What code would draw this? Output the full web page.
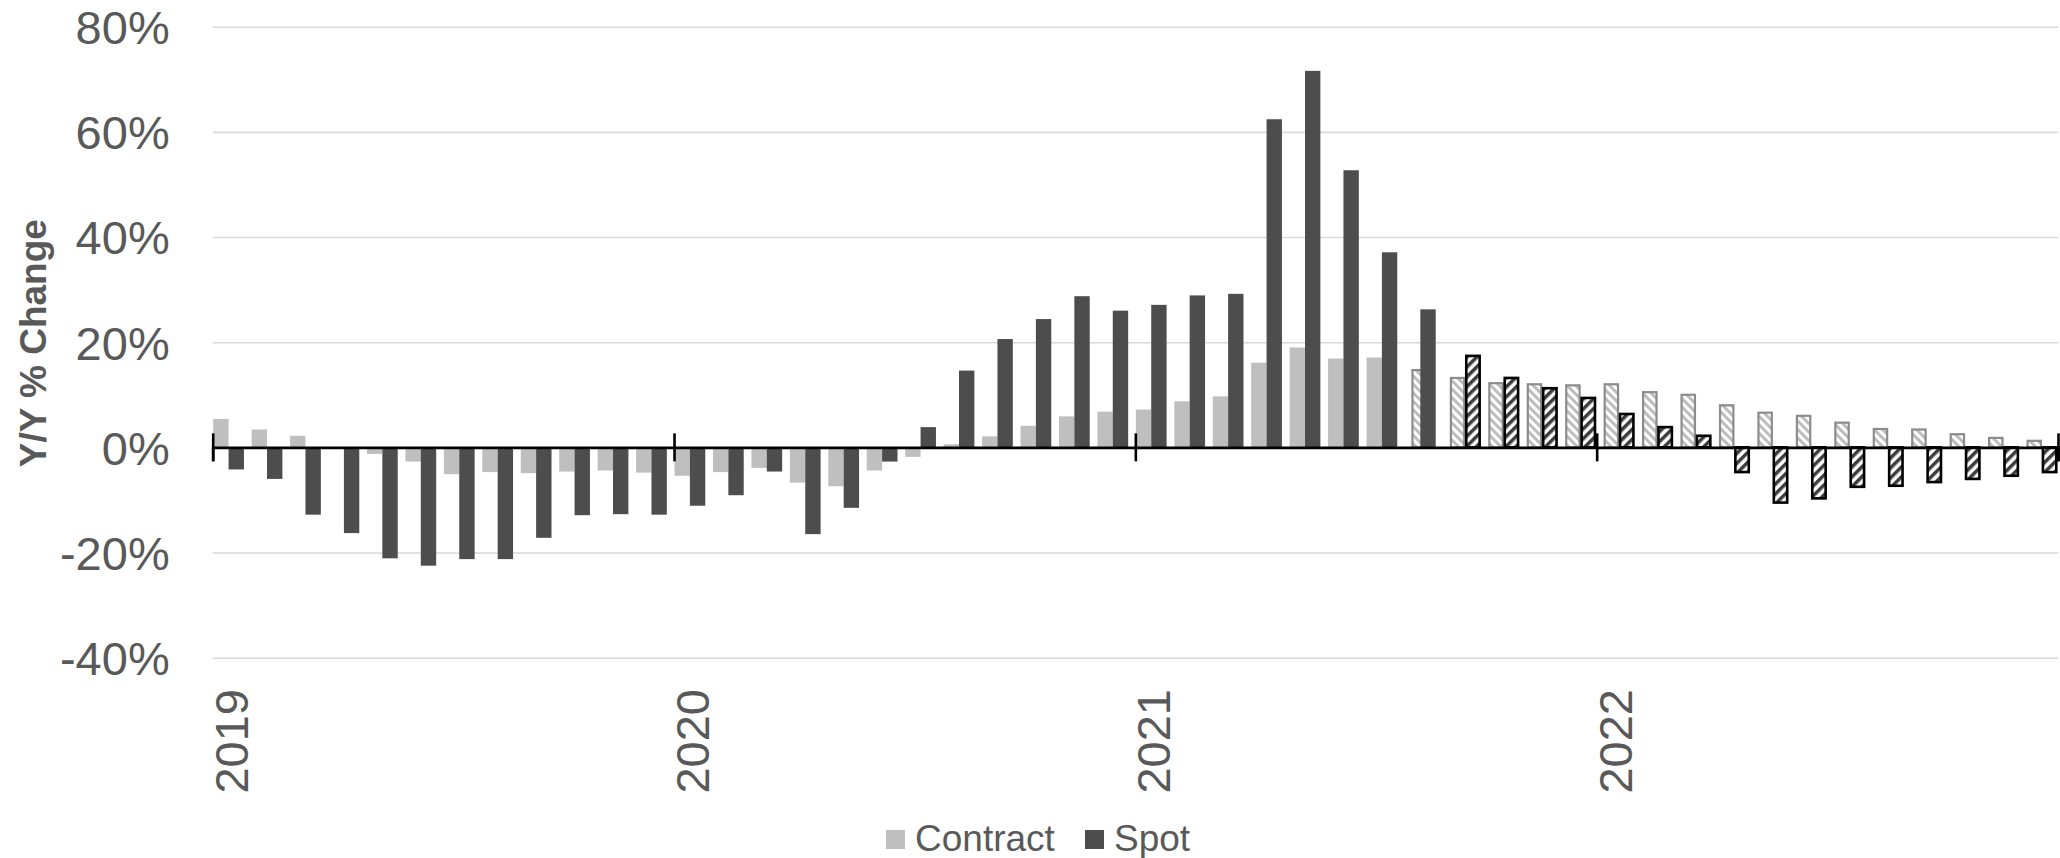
<!DOCTYPE html>
<html>
<head>
<meta charset="utf-8">
<script src="https://cdn.jsdelivr.net/npm/d3@7"></script>
<style>
  body { margin: 0; background: #fff; }
  svg { display: block; font-family: 'Liberation Sans', Arial, sans-serif; }
</style>
</head>
<body>
<div class="canvas"></div>
<script>
// DATA (Y/Y % CHANGE, MONTHLY JAN 2019 - DEC 2022)
const months = d3.timeMonths(new Date(2019, 0, 1), new Date(2023, 0, 1));
const yearLabels = ['2019', '2020', '2021', '2022'];
const yTicks = [-40, -20, 0, 20, 40, 60, 80];

// actual values, Jan 2019 onwards
const contractActual = [
  5.4, 3.4, 2.2, 0, -1.25, -2.7, -5.1, -4.7, -4.9, -4.6, -4.4, -4.8,
  -5.4, -4.7, -3.9, -6.7, -7.4, -4.4, -1.8, 0.6, 2.1, 4.1, 5.9, 6.8,
  7.2, 8.75, 9.7, 16.1, 19.0, 16.9, 17.1
];
const spotActual = [
  -4.2, -6.0, -12.8, -16.3, -21.1, -22.5, -21.25, -21.25, -17.2, -12.9, -12.7, -12.8,
  -11.1, -9.1, -4.6, -16.5, -11.5, -2.7, 3.85, 14.6, 20.6, 24.4, 28.75, 26.0,
  27.1, 28.9, 29.2, 62.4, 71.6, 52.7, 37.1, 26.25
];

// forecast values, continuing right after the actuals
const contractForecast = [
  14.7, 13.2, 12.2, 12.0, 11.8,
  12.0, 10.5, 10.0, 8.0, 6.6, 6.0, 4.7, 3.5, 3.4, 2.5, 1.8, 1.25
];
const spotForecast = [
  17.4, 13.2, 11.25, 9.4,
  6.35, 3.85, 2.2, -4.7, -10.5, -9.7, -7.5, -7.3, -6.6, -6.0, -5.4, -4.7
];

const dims = { width: 2060, height: 858 };
const plot = { left: 212.7, right: 2058, top: 26.7, bottom: 657.7 };

const svg = d3
  .select('.canvas')
  .append('svg')
  .attr('width', dims.width)
  .attr('height', dims.height);

// HATCH PATTERNS FOR FORECAST BARS
const defs = svg.append('defs');

const addHatch = (id, angle, size, stripe, colour) => {
  const p = defs
    .append('pattern')
    .attr('id', id)
    .attr('patternUnits', 'userSpaceOnUse')
    .attr('width', size)
    .attr('height', size)
    .attr('patternTransform', `rotate(${angle})`);
  p.append('rect').attr('width', size).attr('height', size).attr('fill', '#fff');
  p.append('rect').attr('width', stripe).attr('height', size).attr('fill', colour);
};

addHatch('hatchContract', -45, 6, 3, '#bdbdbd');
addHatch('hatchSpot', 45, 7, 3.5, '#3c3c3c');

// SCALES
const x = d3
  .scaleBand()
  .domain(months.map((d, i) => i))
  .range([plot.left, plot.right])
  .padding(0);

const xIdx = d3
  .scaleLinear()
  .domain([0, months.length])
  .range([plot.left, plot.right]);

const y = d3
  .scaleLinear()
  .domain([-40, 80])
  .range([plot.bottom, plot.top]);

// GRIDLINES + Y AXIS LABELS
const yAxis = d3
  .axisLeft(y)
  .tickValues(yTicks)
  .tickSize(-(plot.right - plot.left))
  .tickPadding(43)
  .tickFormat((d) => `${d}%`);

const yGroup = svg
  .append('g')
  .attr('transform', `translate(${plot.left}, 0)`)
  .call(yAxis);

yGroup.select('.domain').remove();
yGroup.selectAll('.tick line').attr('stroke', '#d9d9d9').attr('stroke-width', 1.6);
yGroup
  .selectAll('.tick text')
  .attr('fill', '#595959')
  .attr('font-size', 47)
  .attr('font-family', "'Liberation Sans', Arial, sans-serif")
  .attr('dy', '0.36em');

// Y TITLE
svg
  .append('text')
  .attr('transform', `translate(46, ${(plot.top + plot.bottom) / 2 + 1}) rotate(-90)`)
  .attr('text-anchor', 'middle')
  .attr('font-size', 37)
  .attr('font-weight', 'bold')
  .attr('fill', '#595959')
  .text('Y/Y % Change');

// BAR TABLE
const barW = x.bandwidth() * 0.4;
const bars = [];
contractActual.forEach((v, i) => bars.push({ i, v, series: 'contract', forecast: false }));
spotActual.forEach((v, i) => bars.push({ i, v, series: 'spot', forecast: false }));
contractForecast.forEach((v, k) =>
  bars.push({ i: contractActual.length + k, v, series: 'contract', forecast: true })
);
spotForecast.forEach((v, k) =>
  bars.push({ i: spotActual.length + k, v, series: 'spot', forecast: true })
);

// forecast pair sits a little to the right of the actual pair
const barX = (d) => {
  const start = x(d.i) + (d.forecast ? 7 : 0.5);
  return start + (d.series === 'spot' ? barW : 0);
};

const fillFor = (d) => {
  if (d.forecast) return d.series === 'spot' ? 'url(#hatchSpot)' : 'url(#hatchContract)';
  return d.series === 'spot' ? '#4d4d4d' : '#bfbfbf';
};

// draw order: forecast contract, actual contract, actual spot, forecast spot
const order = (d) => (d.forecast ? (d.series === 'spot' ? 3 : 0) : d.series === 'spot' ? 2 : 1);
bars.sort((a, b) => order(a) - order(b));

const graph = svg.append('g');

graph
  .selectAll('rect.bar')
  .data(bars.filter((d) => d.v !== 0))
  .enter()
  .append('rect')
  .attr('class', 'bar')
  .attr('x', (d) => barX(d) + (d.forecast ? 1 : 0))
  .attr('width', (d) => barW - (d.forecast ? 2 : 0))
  .attr('y', (d) => (d.v > 0 ? y(d.v) : y(0)))
  .attr('height', (d) => Math.abs(y(d.v) - y(0)))
  .attr('fill', fillFor)
  .attr('stroke', (d) => (d.forecast ? (d.series === 'spot' ? '#000' : '#8c8c8c') : 'none'))
  .attr('stroke-width', (d) => (d.forecast ? (d.series === 'spot' ? 2.6 : 2.2) : 0));

// X AXIS AT ZERO
const xAxis = d3
  .axisBottom(xIdx)
  .tickValues([0, 12, 24, 36, 48])
  .tickSize(14)
  .tickFormat('');

const xGroup = svg
  .append('g')
  .attr('transform', `translate(0, ${y(0)})`)
  .call(xAxis);

xGroup.select('.domain').attr('stroke', '#000').attr('stroke-width', 2.7);
xGroup
  .selectAll('.tick line')
  .attr('y1', -14)
  .attr('y2', 14)
  .attr('stroke', '#000')
  .attr('stroke-width', 2.6);

// YEAR LABELS (ROTATED)
svg
  .append('g')
  .selectAll('text')
  .data(yearLabels)
  .enter()
  .append('text')
  .attr('transform', (d, i) => `translate(${xIdx(i * 12) + 35}, 689) rotate(-90)`)
  .attr('text-anchor', 'end')
  .attr('font-size', 47)
  .attr('fill', '#595959')
  .text((d) => d);

// LEGEND
const legendItems = [
  { name: 'Contract', colour: '#bfbfbf', x: 886 },
  { name: 'Spot', colour: '#4d4d4d', x: 1085 }
];

const legend = svg
  .append('g')
  .selectAll('g')
  .data(legendItems)
  .enter()
  .append('g')
  .attr('transform', (d) => `translate(${d.x}, 830)`);

legend.append('rect').attr('width', 19).attr('height', 19).attr('fill', (d) => d.colour);
legend
  .append('text')
  .attr('x', 29)
  .attr('y', 21)
  .attr('font-size', 37)
  .attr('fill', '#595959')
  .text((d) => d.name);
</script>
</body>
</html>
